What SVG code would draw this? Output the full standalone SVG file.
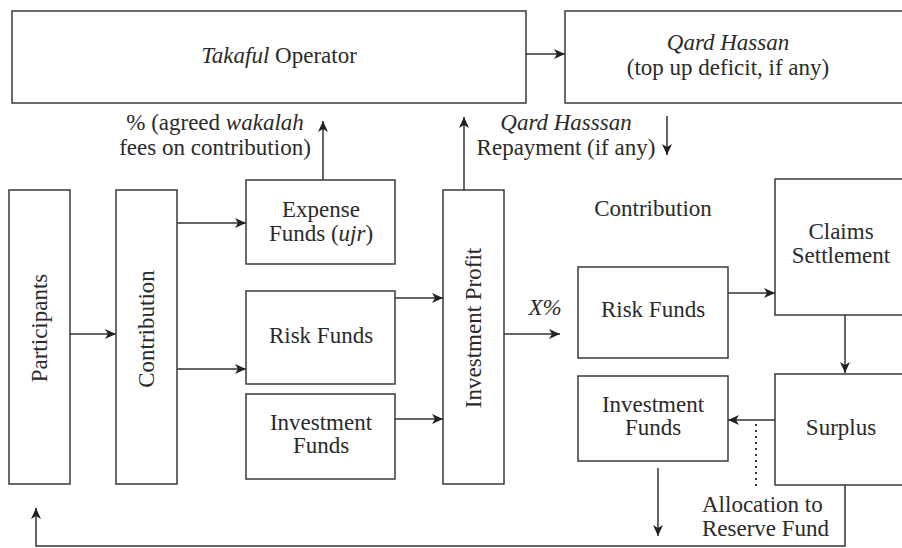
<svg xmlns="http://www.w3.org/2000/svg" width="902" height="548" viewBox="0 0 902 548">
<style>
.box{fill:#fff;stroke:#3a3a3a;stroke-width:1.5}
.t{font-family:'Liberation Serif','DejaVu Serif','Times New Roman',serif;font-size:23px;fill:#2a2a2a;text-anchor:middle}
.i{font-style:italic}
.c{fill:none;stroke:#333;stroke-width:1.5}
.d{fill:none;stroke:#333;stroke-width:2;stroke-dasharray:2 4}
</style>
<defs>
<marker id="ah" markerUnits="userSpaceOnUse" markerWidth="12" markerHeight="10" refX="11" refY="5" orient="auto">
<path d="M0,0 L11,5 L0,10 L3,5 Z" fill="#222"/>
</marker>
</defs>
<rect width="902" height="548" fill="#fff"/>
<g id="connectors">
<path class="c" d="M526,54 H565" marker-end="url(#ah)"/>
<path class="c" d="M323,180 V121" marker-end="url(#ah)"/>
<path class="c" d="M464,190 V117" marker-end="url(#ah)"/>
<path class="c" d="M667,116 V155" marker-end="url(#ah)"/>
<path class="c" d="M70,334 H116" marker-end="url(#ah)"/>
<path class="c" d="M177,223 H246" marker-end="url(#ah)"/>
<path class="c" d="M177,369 H246" marker-end="url(#ah)"/>
<path class="c" d="M395,298 H443" marker-end="url(#ah)"/>
<path class="c" d="M395,419 H443" marker-end="url(#ah)"/>
<path class="c" d="M504,334 H560" marker-end="url(#ah)"/>
<path class="c" d="M728,293 H775" marker-end="url(#ah)"/>
<path class="c" d="M845,315 V373" marker-end="url(#ah)"/>
<path class="c" d="M775,420 H728" marker-end="url(#ah)"/>
<path class="d" d="M756,424 V490"/>
<path class="c" d="M658,468 V536" marker-end="url(#ah)"/>
<path class="c" d="M845,485 V546 H36 V508" marker-end="url(#ah)"/>
</g>
<g id="takaful">
<rect class="box" x="12" y="11" width="514" height="92"/>
<text class="t" x="279" y="63"><tspan class="i">Takaful</tspan> Operator</text>
</g>
<g id="qard">
<rect class="box" x="565" y="11" width="345" height="92"/>
<text class="t" x="728" y="50"><tspan class="i">Qard Hassan</tspan></text>
<text class="t" x="728" y="75">(top up deficit, if any)</text>
</g>
<g id="label-wakalah">
<text class="t" x="215" y="130">% (agreed <tspan class="i">wakalah</tspan></text>
<text class="t" x="215" y="155">fees on contribution)</text>
</g>
<g id="label-repayment">
<text class="t" x="566" y="130"><tspan class="i">Qard Hasssan</tspan></text>
<text class="t" x="566" y="155">Repayment (if any)</text>
</g>
<g id="participants">
<rect class="box" x="9" y="190" width="61" height="294"/>
<text class="t" transform="translate(47,328) rotate(-90)">Participants</text>
</g>
<g id="contribution">
<rect class="box" x="116" y="190" width="61" height="294"/>
<text class="t" transform="translate(154,329) rotate(-90)">Contribution</text>
</g>
<g id="expense-funds">
<rect class="box" x="246" y="180" width="149" height="84"/>
<text class="t" x="321" y="217">Expense</text>
<text class="t" x="321" y="241">Funds (<tspan class="i">ujr</tspan>)</text>
</g>
<g id="risk-funds-1">
<rect class="box" x="246" y="291" width="149" height="93"/>
<text class="t" x="321" y="343">Risk Funds</text>
</g>
<g id="investment-funds-1">
<rect class="box" x="246" y="394" width="149" height="85"/>
<text class="t" x="321" y="430">Investment</text>
<text class="t" x="321" y="453">Funds</text>
</g>
<g id="investment-profit">
<rect class="box" x="443" y="190" width="61" height="294"/>
<text class="t" transform="translate(481,328) rotate(-90)">Investment Profit</text>
</g>
<g id="label-x">
<text class="t i" x="545" y="315">X%</text>
</g>
<g id="label-contribution">
<text class="t" x="653" y="216">Contribution</text>
</g>
<g id="risk-funds-2">
<rect class="box" x="578" y="267" width="150" height="91"/>
<text class="t" x="653" y="317">Risk Funds</text>
</g>
<g id="investment-funds-2">
<rect class="box" x="578" y="376" width="150" height="85"/>
<text class="t" x="653" y="412">Investment</text>
<text class="t" x="653" y="435">Funds</text>
</g>
<g id="claims">
<rect class="box" x="775" y="179" width="135" height="136"/>
<text class="t" x="841" y="239">Claims</text>
<text class="t" x="841" y="263">Settlement</text>
</g>
<g id="surplus">
<rect class="box" x="775" y="374" width="135" height="111"/>
<text class="t" x="841" y="435">Surplus</text>
</g>
<g id="label-allocation">
<text class="t" x="702" y="512" style="text-anchor:start">Allocation to</text>
<text class="t" x="702" y="536" style="text-anchor:start">Reserve Fund</text>
</g>
</svg>
